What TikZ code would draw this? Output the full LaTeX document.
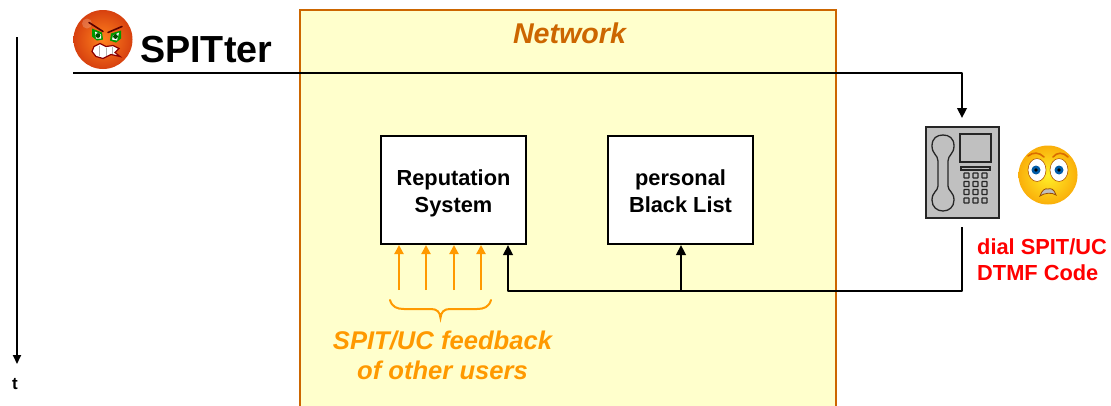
\documentclass[tikz,border=0pt]{standalone}
\usepackage{fontspec}
\setmainfont{Liberation Sans}
\usetikzlibrary{arrows.meta}
\definecolor{netfill}{HTML}{FFFFCC}
\definecolor{netline}{HTML}{CC6600}
\definecolor{fborange}{HTML}{FF9900}
\definecolor{phonegrey}{HTML}{C0C0C0}
\definecolor{angryin}{RGB}{255,130,30}
\definecolor{angryout}{RGB}{215,65,15}
\definecolor{scaredin}{RGB}{255,240,40}
\definecolor{scaredout}{RGB}{250,175,10}
\tikzset{
  x=1pt,y=-1pt,
  netbox/.style={draw=netline,fill=netfill,line width=2.2pt},
  sysbox/.style={draw=black,fill=white,line width=2.4pt,minimum width=145pt,minimum height=108pt,inner sep=0pt,align=center,text height=48pt,text depth=4pt,font=\fontsize{21.8}{27}\selectfont\bfseries},
  conn/.style={draw=black,line width=2.4pt,-{Triangle[length=10pt,width=9.5pt]},line join=round},
  thinconn/.style={draw=black,line width=1.8pt,-{Triangle[length=9pt,width=8pt]}},
  fb/.style={draw=fborange,line width=2pt,-{Triangle[length=9pt,width=9pt]}},
  phonepart/.style={draw=black!85,line width=1.3pt},
  key/.style={draw=black!85,line width=1.3pt,fill=phonegrey,rounded corners=.5pt},
  txt/.style={inner sep=0pt,align=center},
}
\begin{document}
\begin{tikzpicture}
\useasboundingbox (0,0) rectangle (1111,405);
% network box, cut by the lower edge
\begin{scope}
\clip (0,0) rectangle (1111,405);
\node[netbox,minimum width=536pt,minimum height=420pt,anchor=north west,inner sep=0pt] (net) at (298.5,8.5) {};
\end{scope}
\node[txt,text=netline,font=\fontsize{28.6}{32}\selectfont\bfseries\itshape] (nettitle) at (569.5,33) {Network};

\node[sysbox] (rep) at (453.5,190) {Reputation\\System};
\node[sysbox] (bl) at (680.5,190) {personal\\Black List};

% SPITter
\node[txt,anchor=west,font=\fontsize{37.7}{40}\selectfont\bfseries] (spitter) at (140,50) {SPITter};
\begin{scope}[shift={(103,39.5)}]
  \shade[inner color=angryin,outer color=angryout,draw=none] (0,0) circle (29.5);
  \fill[white,opacity=.2] (-16,-16) circle (5);
  \fill[green!60!black] (-11,-11) -- (-1,-7) -- (0,0) -- (-6,1) -- (-11,-3) -- cycle;
  \fill[green!60!black] (18,-9) -- (8,-6) -- (7,1) -- (13,3) -- (18,-1) -- cycle;
  \fill[white] (-8,-8) -- (-2,-5) -- (-2,-1) -- (-7,-1) -- cycle;
  \fill[white] (16,-7) -- (10,-4) -- (9,0) -- (14,1) -- cycle;
  \fill[black!70!green] (-5,-4) circle (2.4);
  \fill[black!70!green] (12.5,-3) circle (2.4);
  \draw[red!35!black,line width=1.6pt,line cap=round] (-14,-17) -- (0,-8);
  \draw[red!35!black,line width=1.6pt,line cap=round] (19,-13) -- (5,-7);
  \fill[white,draw=red!55!black,line width=1.2pt] (-9,7) -- (-3,4) -- (3,7) -- (10,6) -- (16,9) -- (12,13) -- (17,17) -- (8,15) -- (0,19) -- (-7,17) -- (-11,12) -- cycle;
  \draw[black!30,line width=.7pt] (-4,6) -- (-4,16) (3,8) -- (3,16) (9,7) -- (9,14);
\end{scope}

% phone
\node[draw=black!85,fill=phonegrey,line width=1.2pt,minimum width=73pt,minimum height=91pt,inner sep=0pt] (phone) at (962.5,172.5) {};
\begin{scope}[shift={(926,127)}]
  \draw[phonepart] (12,34) .. controls (12,28) and (6,27) .. (6,19) .. controls (6,11) and (11,8) .. (17,8) .. controls (23,8) and (28,11) .. (28,19) .. controls (28,27) and (22,28) .. (22,34) -- (22,59) .. controls (22,64) and (28,65) .. (28,73) .. controls (28,80) and (23,84) .. (17,84) .. controls (11,84) and (6,80) .. (6,73) .. controls (6,65) and (12,64) .. (12,59) -- cycle;
  \draw[phonepart] (34,7) rectangle (65,35);
  \draw[phonepart] (35,40) rectangle (64,43);
  \foreach \kx in {40.5,49.5,58.5}{\foreach \ky in {46,54.5,62.5,71}{
    \draw[key] (\kx-2.5,\ky) rectangle (\kx+2.5,\ky+5);
  }}
\end{scope}

% scared face
\begin{scope}[shift={(1048,175)}]
  \shade[inner color=scaredin,outer color=scaredout,draw=none] (0,0) circle (29.5);
  \draw[orange!85!black,line width=1.6pt,line cap=round] (-20,-19) .. controls (-15,-23) and (-9,-23) .. (-4,-18);
  \draw[orange!85!black,line width=1.6pt,line cap=round] (20,-18) .. controls (15,-23) and (9,-23) .. (5,-18);
  \fill[white,draw=orange!70!black,line width=.6pt] (-11,-5) ellipse (9 and 11.5);
  \fill[white,draw=orange!70!black,line width=.6pt] (11,-5) ellipse (9 and 11.5);
  \fill[blue!45!cyan!65!black] (-12,-5) circle (4.5);
  \fill[blue!45!cyan!65!black] (11,-5) circle (4.5);
  \fill[black] (-12,-5) circle (1.8);
  \fill[black] (11,-5) circle (1.8);
  \fill[white!75!black,draw=orange!60!black,line width=.8pt] (-8,21) .. controls (-6,15) and (-3,13) .. (0,14) .. controls (3,13) and (6,14) .. (8,20) .. controls (4,17) and (-4,18) .. (-8,21) -- cycle;
\end{scope}

% time axis
\coordinate (ttop) at (17,37);
\node[txt,font=\fontsize{17}{20}\selectfont\bfseries] (t) at (15,384) {t};
\coordinate (tend) at (17,364);
\draw[thinconn] (ttop) -- (tend);

% call
\coordinate (callstart) at (73,73);
\coordinate (callturn) at (962,73);
\coordinate (callend) at (962,118);
\draw[conn] (callstart) -- (callturn) -- (callend);

% DTMF return
\coordinate (retstart) at (962,227);
\coordinate (retturn) at (962,291);
\coordinate (repturn) at (508,291);
\coordinate (repin) at (508,245);
\coordinate (blin) at (681,245);
\coordinate (junction) at (681,291);
\draw[black,line width=2.4pt,line join=round] (retstart) -- (retturn) -- (junction);
\draw[conn] (junction) -- (repturn) -- (repin);
\draw[conn] (junction) -- (blin);

% feedback arrows
\foreach \fx in {399,426,454,481}{
  \coordinate (fa\fx) at (\fx,290);
  \coordinate (fb\fx) at (\fx,245);
  \draw[fb] (fa\fx) -- (fb\fx);
}
\draw[fborange,line width=2pt,line cap=round] (390,300) .. controls (392,307) and (397,309) .. (404,309) -- (431,309) .. controls (437,309) and (440,312) .. (440.5,318) .. controls (441,312) and (444,309) .. (450,309) -- (477,309) .. controls (484,309) and (489,307) .. (491,300);
\node[txt,text=fborange,font=\fontsize{25.6}{30}\selectfont\bfseries\itshape] (fbtext) at (442.5,355) {SPIT/UC feedback\\of other users};

\node[txt,text=red,anchor=north west,align=left,font=\fontsize{21.8}{26}\selectfont\bfseries] (dial) at (977,238) {dial SPIT/UC\\DTMF Code};
\end{tikzpicture}
\end{document}
